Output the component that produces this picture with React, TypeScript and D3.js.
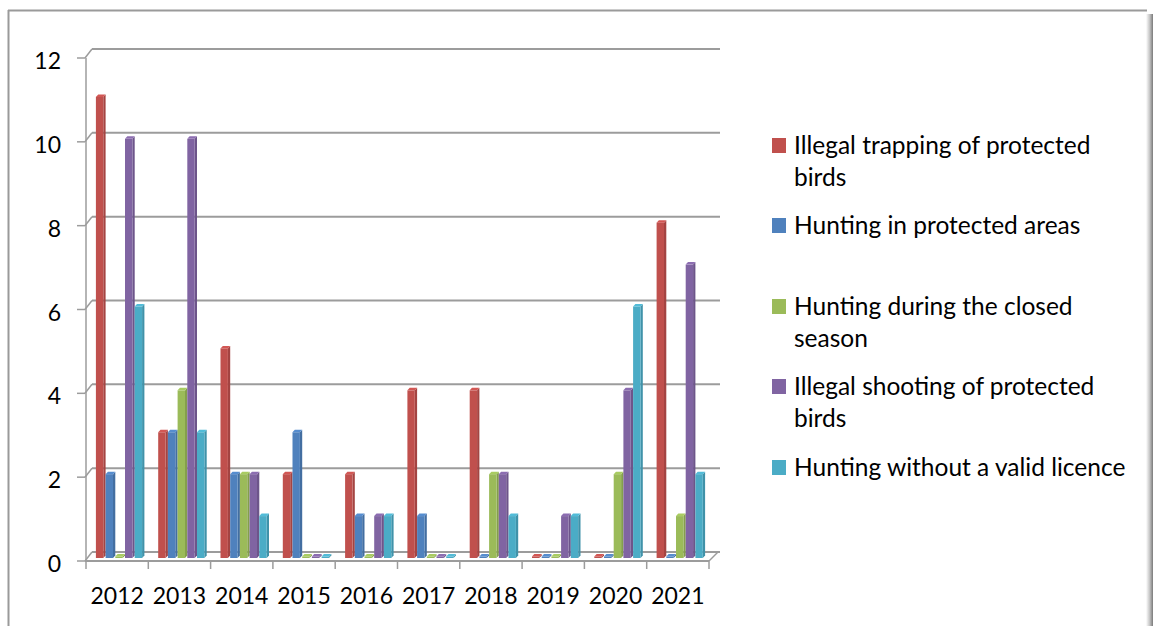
import React from "react";
import * as d3 from "d3";

const years = ["2012", "2013", "2014", "2015", "2016", "2017", "2018", "2019", "2020", "2021"];
const seriesNames = [
  "Illegal trapping of protected birds",
  "Hunting in protected areas",
  "Hunting during the closed season",
  "Illegal shooting of protected birds",
  "Hunting without a valid licence",
];
const trapping = [11, 3, 5, 2, 2, 4, 4, 0, 0, 8];
const protectedAreas = [2, 3, 2, 3, 1, 1, 0, 0, 0, 0];
const closedSeason = [0, 4, 2, 0, 0, 0, 2, 0, 2, 1];
const shooting = [10, 10, 2, 0, 1, 0, 2, 1, 4, 7];
const noLicence = [6, 3, 1, 0, 1, 0, 1, 1, 6, 2];
const yTicks = [0, 2, 4, 6, 8, 10, 12];
const legendLines = [
  ["Illegal trapping of protected", "birds"],
  ["Hunting in protected areas"],
  ["Hunting during the closed", "season"],
  ["Illegal shooting of protected", "birds"],
  ["Hunting without a valid licence"],
];

const seriesValues = [trapping, protectedAreas, closedSeason, shooting, noLicence];
const colors = ["#C0504D", "#4F81BD", "#9BBB59", "#8064A2", "#4BACC6"];

const W = 1153;
const H = 626;
const FONT = "Lato, 'Open Sans', sans-serif";

export default function App() {
  const x = d3.scaleBand<string>().domain(years).range([86, 709]);
  const step = 9.7;
  const sub = d3
    .scaleBand<string>()
    .domain(seriesNames)
    .range([0, x.bandwidth()])
    .paddingInner(0)
    .paddingOuter((x.bandwidth() - step * 5) / 2 / step);
  const y = d3.scaleLinear().domain([0, 12]).range([561, 58]);

  const depthX = 7;
  const depthY = -9;
  const barDx = 3;
  const barDy = -3;
  const sideW = 2.3;
  const capH = 2.5;

  const bars: JSX.Element[] = [];
  years.forEach((yr, i) => {
    seriesNames.forEach((s, j) => {
      const v = seriesValues[j][i];
      const col = colors[j];
      const bx = (x(yr) as number) + (sub(s) as number) + barDx;
      const bw = sub.bandwidth() - sideW;
      const y0 = y(0) + barDy;
      const yt = v === 0 ? y0 - 1.5 : y(v) + barDy;
      const dark = d3.color(col)!.darker(0.45).toString();
      const light = d3.color(col)!.brighter(0.25).toString();
      bars.push(
        <g key={`${i}-${j}`}>
          <path
            d={`M${bx + bw},${yt} L${bx + bw + sideW},${yt - capH} L${bx + bw + sideW},${y0 - capH} L${bx + bw},${y0} Z`}
            fill={dark}
          />
          <rect x={bx} y={yt} width={bw} height={Math.max(0, y0 - yt)} fill={col} />
          <path
            d={`M${bx},${yt} L${bx + sideW},${yt - capH} L${bx + bw + sideW},${yt - capH} L${bx + bw},${yt} Z`}
            fill={light}
          />
        </g>
      );
    });
  });

  const x0 = 85;
  const xEnd = 709;
  const grid = "#9c9c9c";

  return (
    <svg
      width={W}
      height={H}
      style={{ position: "absolute", left: 0, top: 0, background: "#fff" }}
    >
      <defs>
        <linearGradient id="shadow" x1="0" x2="1" y1="0" y2="0">
          <stop offset="0" stopColor="#ffffff" />
          <stop offset="0.5" stopColor="#c8c8c8" />
          <stop offset="1" stopColor="#7a7a7a" />
        </linearGradient>
      </defs>
      <rect x={0} y={0} width={W} height={H} fill="#fff" />
      {/* outer frame */}
      <line x1={8.5} y1={10} x2={8.5} y2={H} stroke="#9a9a9a" strokeWidth={2} />
      <line x1={8} y1={10.5} x2={1147} y2={10.5} stroke="#9a9a9a" strokeWidth={2} />
      <rect x={1146} y={14} width={7} height={H - 14} fill="url(#shadow)" />

      {/* gridlines on back wall */}
      {yTicks.map((t) => (
        <g key={`g${t}`}>
          <line x1={x0 - 8} y1={y(t)} x2={x0} y2={y(t)} stroke={grid} strokeWidth={1.5} />
          <line x1={x0} y1={y(t)} x2={x0 + depthX} y2={y(t) + depthY} stroke={grid} strokeWidth={1.5} />
          <line
            x1={x0 + depthX}
            y1={y(t) + depthY}
            x2={xEnd + depthX + 4}
            y2={y(t) + depthY}
            stroke={grid}
            strokeWidth={2}
          />
        </g>
      ))}
      {/* left wall front edge */}
      <line x1={x0 + 1} y1={y(12)} x2={x0 + 1} y2={y(0)} stroke={grid} strokeWidth={1.5} />
      {/* floor */}
      <line x1={x0} y1={y(0)} x2={xEnd} y2={y(0)} stroke={grid} strokeWidth={2} />
      <line x1={xEnd} y1={y(0)} x2={xEnd + depthX + 2} y2={y(0) + depthY} stroke={grid} strokeWidth={1.5} />
      {/* x ticks */}
      {[...years.map((yr) => x(yr) as number), xEnd].map((tx, k) => (
        <line key={`xt${k}`} x1={tx} y1={y(0)} x2={tx} y2={y(0) + 8} stroke={grid} strokeWidth={1.5} />
      ))}

      {bars}

      {/* y labels */}
      {yTicks.map((t) => (
        <text
          key={`yl${t}`}
          x={61}
          y={y(t) + 2}
          textAnchor="end"
          dominantBaseline="central"
          fontFamily={FONT}
          fontSize={23}
          fill="#000"
        >
          {t}
        </text>
      ))}
      {/* x labels */}
      {years.map((yr) => (
        <text
          key={`xl${yr}`}
          x={(x(yr) as number) + x.bandwidth() / 2}
          y={604}
          textAnchor="middle"
          fontFamily={FONT}
          fontSize={23}
          fill="#000"
        >
          {yr}
        </text>
      ))}

      {/* legend */}
      {legendLines.map((lines, k) => {
        const tops = [138, 218, 299, 379, 460];
        const top = tops[k];
        return (
          <g key={`lg${k}`}>
            <rect x={772} y={top} width={14} height={15} fill={colors[k]} />
            {lines.map((ln, m) => (
              <text
                key={m}
                x={794}
                y={top + 15.5 + m * 32}
                fontFamily={FONT}
                fontSize={24.5}
                fill="#000"
              >
                {ln}
              </text>
            ))}
          </g>
        );
      })}
    </svg>
  );
}
